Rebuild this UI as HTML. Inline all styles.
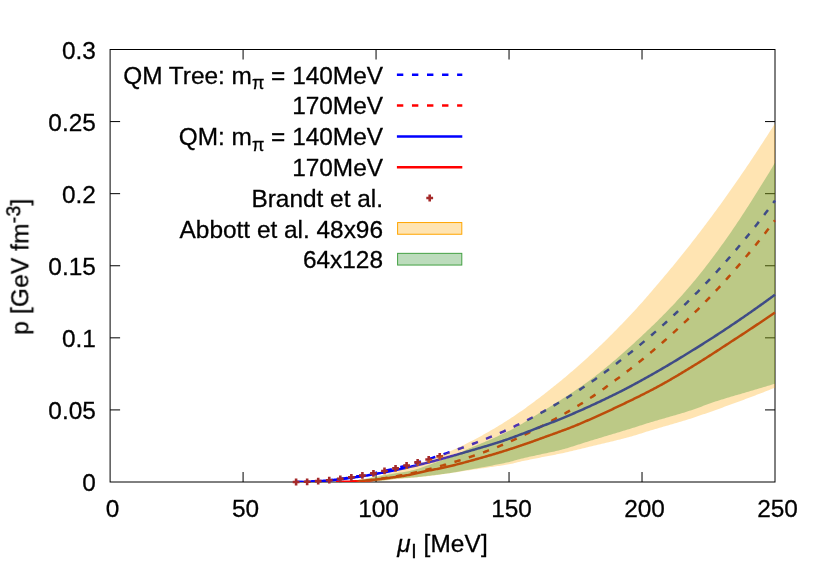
<!DOCTYPE html>
<html><head><meta charset="utf-8"><title>plot</title>
<style>
html,body{margin:0;padding:0;background:#fff;}
svg{display:block;}
text{font-family:"Liberation Sans",sans-serif;font-size:24.4px;fill:#000;stroke:#000;stroke-width:0.3px;}
</style></head><body>
<svg width="830" height="581" viewBox="0 0 830 581">
<rect width="830" height="581" fill="#fff"/>
<path d="M243.08,482.0v-10M243.08,49.5v10M376.06,482.0v-10M376.06,49.5v10M509.04,482.0v-10M509.04,49.5v10M642.02,482.0v-10M642.02,49.5v10M110.1,409.92h10M775.0,409.92h-10M110.1,337.83h10M775.0,337.83h-10M110.1,265.75h10M775.0,265.75h-10M110.1,193.67h10M775.0,193.67h-10M110.1,121.58h10M775.0,121.58h-10" stroke="#000" stroke-width="1" fill="none"/>
<rect x="110.1" y="49.5" width="664.90" height="432.5" fill="none" stroke="#000" stroke-width="1"/>
<clipPath id="pc"><rect x="110.1" y="49.5" width="665.40" height="432.5"/></clipPath>
<g fill="none" stroke-width="2.5" clip-path="url(#pc)">
<path d="M296.27,482.00 L297.47,482.00 L298.67,481.99 L299.87,481.98 L301.07,481.96 L302.27,481.93 L303.47,481.90 L304.67,481.87 L305.87,481.83 L307.07,481.79 L308.27,481.74 L309.47,481.69 L310.67,481.63 L311.87,481.57 L313.07,481.50 L314.27,481.43 L315.47,481.36 L316.67,481.28 L317.87,481.19 L319.07,481.10 L320.27,481.01 L321.47,480.92 L322.67,480.82 L323.87,480.71 L325.07,480.60 L326.27,480.49 L327.47,480.38 L328.67,480.26 L329.87,480.13 L331.07,480.00 L332.27,479.87 L333.47,479.74 L334.67,479.60 L335.87,479.46 L337.07,479.31 L338.27,479.16 L339.47,479.01 L340.67,478.86 L341.87,478.70 L343.06,478.53 L344.26,478.37 L345.46,478.20 L346.66,478.02 L347.86,477.85 L349.06,477.67 L350.26,477.49 L351.46,477.30 L352.66,477.11 L353.86,476.92 L355.06,476.72 L356.26,476.52 L357.46,476.32 L358.66,476.12 L359.86,475.91 L361.06,475.70 L362.26,475.48 L363.46,475.26 L364.66,475.04 L365.86,474.82 L367.06,474.59 L368.26,474.36 L369.46,474.13 L370.66,473.90 L371.86,473.66 L373.06,473.42 L374.26,473.17 L375.46,472.92 L376.66,472.67 L377.86,472.42 L379.06,472.16 L380.26,471.90 L381.46,471.64 L382.66,471.38 L383.86,471.11 L385.06,470.84 L386.26,470.56 L387.46,470.29 L388.66,470.01 L389.86,469.73 L391.06,469.44 L392.26,469.15 L393.46,468.86 L394.66,468.57 L395.86,468.27 L397.06,467.97 L398.26,467.67 L399.46,467.37 L400.66,467.06 L401.86,466.75 L403.06,466.44 L404.26,466.12 L405.46,465.80 L406.66,465.48 L407.86,465.16 L409.06,464.83 L410.25,464.50 L411.45,464.17 L412.65,463.83 L413.85,463.49 L415.05,463.15 L416.25,462.81 L417.45,462.46 L418.65,462.11 L419.85,461.76 L421.05,461.40 L422.25,461.04 L423.45,460.68 L424.65,460.32 L425.85,459.95 L427.05,459.59 L428.25,459.21 L429.45,458.84 L430.65,458.46 L431.85,458.08 L433.05,457.70 L434.25,457.31 L435.45,456.92 L436.65,456.53 L437.85,456.14 L439.05,455.74 L440.25,455.34 L441.45,454.94 L442.65,454.54 L443.85,454.13 L445.05,453.73 L446.25,453.32 L447.45,452.91 L448.65,452.51 L449.85,452.10 L451.05,451.69 L452.25,451.27 L453.45,450.86 L454.65,450.44 L455.85,450.03 L457.05,449.61 L458.25,449.19 L459.45,448.76 L460.65,448.34 L461.85,447.91 L463.05,447.48 L464.25,447.05 L465.45,446.62 L466.65,446.18 L467.85,445.75 L469.05,445.31 L470.25,444.87 L471.45,444.42 L472.65,443.97 L473.85,443.53 L475.05,443.07 L476.24,442.62 L477.44,442.16 L478.64,441.70 L479.84,441.24 L481.04,440.77 L482.24,440.30 L483.44,439.83 L484.64,439.36 L485.84,438.88 L487.04,438.40 L488.24,437.91 L489.44,437.42 L490.64,436.93 L491.84,436.43 L493.04,435.94 L494.24,435.43 L495.44,434.93 L496.64,434.42 L497.84,433.90 L499.04,433.39 L500.24,432.86 L501.44,432.34 L502.64,431.81 L503.84,431.28 L505.04,430.74 L506.24,430.20 L507.44,429.65 L508.64,429.10 L509.84,428.54 L511.04,427.99 L512.24,427.43 L513.44,426.86 L514.64,426.30 L515.84,425.73 L517.04,425.16 L518.24,424.58 L519.44,424.00 L520.64,423.42 L521.84,422.84 L523.04,422.25 L524.24,421.65 L525.44,421.06 L526.64,420.46 L527.84,419.85 L529.04,419.24 L530.24,418.62 L531.44,418.01 L532.64,417.38 L533.84,416.75 L535.04,416.12 L536.24,415.48 L537.44,414.84 L538.64,414.19 L539.84,413.53 L541.04,412.87 L542.24,412.21 L543.43,411.54 L544.63,410.87 L545.83,410.20 L547.03,409.52 L548.23,408.84 L549.43,408.16 L550.63,407.47 L551.83,406.78 L553.03,406.08 L554.23,405.38 L555.43,404.68 L556.63,403.98 L557.83,403.27 L559.03,402.55 L560.23,401.84 L561.43,401.12 L562.63,400.39 L563.83,399.67 L565.03,398.93 L566.23,398.20 L567.43,397.46 L568.63,396.72 L569.83,395.97 L571.03,395.22 L572.23,394.47 L573.43,393.71 L574.63,392.95 L575.83,392.19 L577.03,391.42 L578.23,390.65 L579.43,389.87 L580.63,389.09 L581.83,388.31 L583.03,387.52 L584.23,386.73 L585.43,385.93 L586.63,385.14 L587.83,384.33 L589.03,383.53 L590.23,382.71 L591.43,381.90 L592.63,381.07 L593.83,380.24 L595.03,379.40 L596.23,378.55 L597.43,377.70 L598.63,376.84 L599.83,375.97 L601.03,375.10 L602.23,374.22 L603.43,373.34 L604.63,372.46 L605.83,371.56 L607.03,370.67 L608.23,369.77 L609.42,368.87 L610.62,367.96 L611.82,367.05 L613.02,366.14 L614.22,365.23 L615.42,364.31 L616.62,363.39 L617.82,362.47 L619.02,361.55 L620.22,360.63 L621.42,359.71 L622.62,358.78 L623.82,357.85 L625.02,356.91 L626.22,355.97 L627.42,355.03 L628.62,354.08 L629.82,353.13 L631.02,352.17 L632.22,351.21 L633.42,350.24 L634.62,349.27 L635.82,348.30 L637.02,347.32 L638.22,346.34 L639.42,345.35 L640.62,344.36 L641.82,343.37 L643.02,342.37 L644.22,341.36 L645.42,340.35 L646.62,339.34 L647.82,338.32 L649.02,337.30 L650.22,336.28 L651.42,335.24 L652.62,334.21 L653.82,333.17 L655.02,332.12 L656.22,331.08 L657.42,330.02 L658.62,328.96 L659.82,327.90 L661.02,326.83 L662.22,325.76 L663.42,324.68 L664.62,323.60 L665.82,322.51 L667.02,321.42 L668.22,320.33 L669.42,319.23 L670.62,318.12 L671.82,317.01 L673.02,315.89 L674.22,314.77 L675.41,313.65 L676.61,312.52 L677.81,311.38 L679.01,310.24 L680.21,309.10 L681.41,307.95 L682.61,306.79 L683.81,305.63 L685.01,304.46 L686.21,303.29 L687.41,302.12 L688.61,300.94 L689.81,299.75 L691.01,298.56 L692.21,297.36 L693.41,296.16 L694.61,294.95 L695.81,293.74 L697.01,292.52 L698.21,291.30 L699.41,290.07 L700.61,288.84 L701.81,287.60 L703.01,286.36 L704.21,285.11 L705.41,283.85 L706.61,282.59 L707.81,281.32 L709.01,280.05 L710.21,278.77 L711.41,277.49 L712.61,276.20 L713.81,274.91 L715.01,273.61 L716.21,272.30 L717.41,270.99 L718.61,269.68 L719.81,268.35 L721.01,267.02 L722.21,265.69 L723.41,264.35 L724.61,263.00 L725.81,261.64 L727.01,260.28 L728.21,258.92 L729.41,257.54 L730.61,256.16 L731.81,254.77 L733.01,253.38 L734.21,251.98 L735.41,250.57 L736.61,249.16 L737.81,247.74 L739.01,246.31 L740.21,244.88 L741.41,243.44 L742.60,242.00 L743.80,240.55 L745.00,239.09 L746.20,237.62 L747.40,236.15 L748.60,234.67 L749.80,233.19 L751.00,231.70 L752.20,230.20 L753.40,228.70 L754.60,227.19 L755.80,225.68 L757.00,224.16 L758.20,222.63 L759.40,221.09 L760.60,219.55 L761.80,218.01 L763.00,216.45 L764.20,214.89 L765.40,213.33 L766.60,211.75 L767.80,210.18 L769.00,208.59 L770.20,207.00 L771.40,205.40 L772.60,203.80 L773.80,202.19 L775.00,200.57" stroke="#0000ff" stroke-dasharray="6.4 8.65"/>
<path d="M336.17,482.00 L337.27,482.00 L338.37,481.99 L339.47,481.98 L340.57,481.97 L341.67,481.95 L342.77,481.92 L343.86,481.89 L344.96,481.86 L346.06,481.82 L347.16,481.78 L348.26,481.74 L349.36,481.69 L350.46,481.63 L351.56,481.58 L352.66,481.51 L353.76,481.45 L354.86,481.38 L355.96,481.31 L357.06,481.23 L358.16,481.15 L359.26,481.06 L360.36,480.98 L361.46,480.88 L362.56,480.79 L363.66,480.69 L364.76,480.59 L365.86,480.48 L366.96,480.37 L368.06,480.26 L369.16,480.14 L370.26,480.02 L371.36,479.90 L372.46,479.77 L373.56,479.64 L374.66,479.50 L375.76,479.37 L376.86,479.23 L377.96,479.08 L379.06,478.94 L380.16,478.79 L381.26,478.63 L382.36,478.48 L383.46,478.32 L384.56,478.15 L385.66,477.99 L386.76,477.82 L387.86,477.65 L388.96,477.47 L390.06,477.29 L391.16,477.11 L392.26,476.93 L393.36,476.74 L394.46,476.55 L395.56,476.35 L396.66,476.16 L397.76,475.96 L398.86,475.76 L399.96,475.55 L401.06,475.34 L402.16,475.13 L403.26,474.92 L404.36,474.70 L405.46,474.48 L406.56,474.26 L407.66,474.03 L408.76,473.80 L409.85,473.57 L410.95,473.34 L412.05,473.10 L413.15,472.86 L414.25,472.62 L415.35,472.37 L416.45,472.12 L417.55,471.87 L418.65,471.62 L419.75,471.36 L420.85,471.10 L421.95,470.84 L423.05,470.58 L424.15,470.31 L425.25,470.04 L426.35,469.76 L427.45,469.49 L428.55,469.21 L429.65,468.93 L430.75,468.64 L431.85,468.36 L432.95,468.07 L434.05,467.77 L435.15,467.48 L436.25,467.18 L437.35,466.88 L438.45,466.58 L439.55,466.27 L440.65,465.96 L441.75,465.65 L442.85,465.34 L443.95,465.03 L445.05,464.71 L446.15,464.40 L447.25,464.08 L448.35,463.76 L449.45,463.44 L450.55,463.11 L451.65,462.79 L452.75,462.46 L453.85,462.13 L454.95,461.80 L456.05,461.46 L457.15,461.13 L458.25,460.79 L459.35,460.45 L460.45,460.10 L461.55,459.76 L462.65,459.41 L463.75,459.06 L464.85,458.71 L465.95,458.35 L467.05,458.00 L468.15,457.64 L469.25,457.27 L470.35,456.91 L471.45,456.54 L472.55,456.17 L473.65,455.80 L474.75,455.42 L475.84,455.04 L476.94,454.66 L478.04,454.28 L479.14,453.89 L480.24,453.50 L481.34,453.11 L482.44,452.71 L483.54,452.31 L484.64,451.91 L485.74,451.50 L486.84,451.09 L487.94,450.68 L489.04,450.26 L490.14,449.84 L491.24,449.42 L492.34,448.99 L493.44,448.56 L494.54,448.13 L495.64,447.69 L496.74,447.25 L497.84,446.81 L498.94,446.36 L500.04,445.91 L501.14,445.45 L502.24,444.99 L503.34,444.53 L504.44,444.06 L505.54,443.59 L506.64,443.11 L507.74,442.64 L508.84,442.15 L509.94,441.66 L511.04,441.17 L512.14,440.67 L513.24,440.17 L514.34,439.67 L515.44,439.16 L516.54,438.65 L517.64,438.13 L518.74,437.61 L519.84,437.09 L520.94,436.56 L522.04,436.03 L523.14,435.50 L524.24,434.96 L525.34,434.43 L526.44,433.88 L527.54,433.34 L528.64,432.79 L529.74,432.24 L530.84,431.69 L531.94,431.14 L533.04,430.58 L534.14,430.02 L535.24,429.46 L536.34,428.90 L537.44,428.33 L538.54,427.77 L539.64,427.20 L540.74,426.63 L541.84,426.06 L542.93,425.48 L544.03,424.91 L545.13,424.33 L546.23,423.75 L547.33,423.16 L548.43,422.58 L549.53,421.99 L550.63,421.40 L551.73,420.80 L552.83,420.21 L553.93,419.61 L555.03,419.01 L556.13,418.40 L557.23,417.80 L558.33,417.18 L559.43,416.57 L560.53,415.96 L561.63,415.34 L562.73,414.72 L563.83,414.09 L564.93,413.46 L566.03,412.83 L567.13,412.20 L568.23,411.56 L569.33,410.92 L570.43,410.27 L571.53,409.62 L572.63,408.97 L573.73,408.32 L574.83,407.66 L575.93,407.00 L577.03,406.33 L578.13,405.66 L579.23,404.99 L580.33,404.31 L581.43,403.63 L582.53,402.94 L583.63,402.26 L584.73,401.56 L585.83,400.87 L586.93,400.16 L588.03,399.46 L589.13,398.75 L590.23,398.04 L591.33,397.32 L592.43,396.59 L593.53,395.85 L594.63,395.11 L595.73,394.37 L596.83,393.61 L597.93,392.85 L599.03,392.09 L600.13,391.31 L601.23,390.54 L602.33,389.76 L603.43,388.97 L604.53,388.18 L605.63,387.39 L606.73,386.59 L607.83,385.79 L608.92,384.99 L610.02,384.18 L611.12,383.37 L612.22,382.56 L613.32,381.75 L614.42,380.94 L615.52,380.12 L616.62,379.31 L617.72,378.49 L618.82,377.67 L619.92,376.86 L621.02,376.04 L622.12,375.22 L623.22,374.39 L624.32,373.56 L625.42,372.73 L626.52,371.89 L627.62,371.05 L628.72,370.21 L629.82,369.37 L630.92,368.52 L632.02,367.66 L633.12,366.80 L634.22,365.94 L635.32,365.08 L636.42,364.21 L637.52,363.34 L638.62,362.46 L639.72,361.58 L640.82,360.70 L641.92,359.81 L643.02,358.92 L644.12,358.03 L645.22,357.13 L646.32,356.23 L647.42,355.32 L648.52,354.41 L649.62,353.50 L650.72,352.58 L651.82,351.66 L652.92,350.74 L654.02,349.81 L655.12,348.87 L656.22,347.94 L657.32,347.00 L658.42,346.05 L659.52,345.10 L660.62,344.15 L661.72,343.19 L662.82,342.23 L663.92,341.27 L665.02,340.30 L666.12,339.33 L667.22,338.35 L668.32,337.37 L669.42,336.38 L670.52,335.40 L671.62,334.40 L672.72,333.40 L673.82,332.40 L674.92,331.40 L676.01,330.39 L677.11,329.37 L678.21,328.36 L679.31,327.33 L680.41,326.31 L681.51,325.28 L682.61,324.24 L683.71,323.20 L684.81,322.16 L685.91,321.11 L687.01,320.06 L688.11,319.00 L689.21,317.94 L690.31,316.87 L691.41,315.80 L692.51,314.73 L693.61,313.65 L694.71,312.57 L695.81,311.48 L696.91,310.39 L698.01,309.29 L699.11,308.19 L700.21,307.08 L701.31,305.97 L702.41,304.86 L703.51,303.74 L704.61,302.61 L705.71,301.48 L706.81,300.35 L707.91,299.21 L709.01,298.07 L710.11,296.92 L711.21,295.77 L712.31,294.61 L713.41,293.45 L714.51,292.29 L715.61,291.12 L716.71,289.94 L717.81,288.76 L718.91,287.57 L720.01,286.39 L721.11,285.19 L722.21,283.99 L723.31,282.79 L724.41,281.58 L725.51,280.36 L726.61,279.14 L727.71,277.92 L728.81,276.69 L729.91,275.46 L731.01,274.22 L732.11,272.97 L733.21,271.72 L734.31,270.47 L735.41,269.21 L736.51,267.94 L737.61,266.67 L738.71,265.39 L739.81,264.11 L740.91,262.82 L742.00,261.53 L743.10,260.23 L744.20,258.93 L745.30,257.62 L746.40,256.31 L747.50,254.99 L748.60,253.66 L749.70,252.33 L750.80,251.00 L751.90,249.66 L753.00,248.31 L754.10,246.96 L755.20,245.60 L756.30,244.24 L757.40,242.87 L758.50,241.50 L759.60,240.12 L760.70,238.74 L761.80,237.35 L762.90,235.95 L764.00,234.55 L765.10,233.15 L766.20,231.74 L767.30,230.32 L768.40,228.90 L769.50,227.48 L770.60,226.05 L771.70,224.61 L772.80,223.17 L773.90,221.72 L775.00,220.27" stroke="#ff0000" stroke-dasharray="6.4 8.65"/>
<path d="M296.27,482.00 L297.47,482.00 L298.67,481.99 L299.87,481.98 L301.07,481.96 L302.27,481.94 L303.47,481.91 L304.67,481.88 L305.87,481.85 L307.07,481.81 L308.27,481.76 L309.47,481.72 L310.67,481.66 L311.87,481.61 L313.07,481.55 L314.27,481.48 L315.47,481.42 L316.67,481.34 L317.87,481.27 L319.07,481.19 L320.27,481.11 L321.47,481.02 L322.67,480.93 L323.87,480.83 L325.07,480.74 L326.27,480.64 L327.47,480.53 L328.67,480.43 L329.87,480.32 L331.07,480.20 L332.27,480.08 L333.47,479.96 L334.67,479.84 L335.87,479.71 L337.07,479.58 L338.27,479.45 L339.47,479.32 L340.67,479.18 L341.87,479.04 L343.06,478.89 L344.26,478.75 L345.46,478.60 L346.66,478.44 L347.86,478.29 L349.06,478.13 L350.26,477.97 L351.46,477.80 L352.66,477.64 L353.86,477.47 L355.06,477.30 L356.26,477.12 L357.46,476.94 L358.66,476.77 L359.86,476.58 L361.06,476.40 L362.26,476.21 L363.46,476.02 L364.66,475.83 L365.86,475.64 L367.06,475.44 L368.26,475.24 L369.46,475.04 L370.66,474.83 L371.86,474.63 L373.06,474.42 L374.26,474.21 L375.46,473.99 L376.66,473.78 L377.86,473.56 L379.06,473.34 L380.26,473.12 L381.46,472.89 L382.66,472.67 L383.86,472.44 L385.06,472.21 L386.26,471.97 L387.46,471.74 L388.66,471.50 L389.86,471.26 L391.06,471.02 L392.26,470.77 L393.46,470.53 L394.66,470.28 L395.86,470.03 L397.06,469.77 L398.26,469.52 L399.46,469.26 L400.66,469.00 L401.86,468.74 L403.06,468.48 L404.26,468.22 L405.46,467.95 L406.66,467.68 L407.86,467.41 L409.06,467.13 L410.25,466.86 L411.45,466.58 L412.65,466.30 L413.85,466.02 L415.05,465.74 L416.25,465.45 L417.45,465.17 L418.65,464.88 L419.85,464.59 L421.05,464.29 L422.25,464.00 L423.45,463.70 L424.65,463.40 L425.85,463.10 L427.05,462.79 L428.25,462.48 L429.45,462.17 L430.65,461.86 L431.85,461.55 L433.05,461.23 L434.25,460.92 L435.45,460.60 L436.65,460.27 L437.85,459.95 L439.05,459.63 L440.25,459.30 L441.45,458.97 L442.65,458.64 L443.85,458.31 L445.05,457.98 L446.25,457.64 L447.45,457.31 L448.65,456.97 L449.85,456.63 L451.05,456.30 L452.25,455.96 L453.45,455.61 L454.65,455.27 L455.85,454.93 L457.05,454.59 L458.25,454.24 L459.45,453.89 L460.65,453.55 L461.85,453.20 L463.05,452.85 L464.25,452.51 L465.45,452.16 L466.65,451.81 L467.85,451.46 L469.05,451.11 L470.25,450.76 L471.45,450.41 L472.65,450.06 L473.85,449.71 L475.05,449.36 L476.24,449.02 L477.44,448.67 L478.64,448.32 L479.84,447.97 L481.04,447.62 L482.24,447.27 L483.44,446.91 L484.64,446.56 L485.84,446.20 L487.04,445.85 L488.24,445.49 L489.44,445.12 L490.64,444.76 L491.84,444.39 L493.04,444.03 L494.24,443.65 L495.44,443.28 L496.64,442.90 L497.84,442.52 L499.04,442.13 L500.24,441.74 L501.44,441.35 L502.64,440.95 L503.84,440.55 L505.04,440.14 L506.24,439.73 L507.44,439.31 L508.64,438.89 L509.84,438.46 L511.04,438.03 L512.24,437.60 L513.44,437.16 L514.64,436.72 L515.84,436.28 L517.04,435.84 L518.24,435.39 L519.44,434.94 L520.64,434.49 L521.84,434.04 L523.04,433.58 L524.24,433.13 L525.44,432.67 L526.64,432.21 L527.84,431.75 L529.04,431.29 L530.24,430.82 L531.44,430.35 L532.64,429.89 L533.84,429.42 L535.04,428.95 L536.24,428.48 L537.44,428.00 L538.64,427.53 L539.84,427.05 L541.04,426.58 L542.24,426.11 L543.43,425.65 L544.63,425.19 L545.83,424.73 L547.03,424.27 L548.23,423.82 L549.43,423.36 L550.63,422.91 L551.83,422.45 L553.03,421.99 L554.23,421.52 L555.43,421.05 L556.63,420.58 L557.83,420.10 L559.03,419.61 L560.23,419.12 L561.43,418.62 L562.63,418.12 L563.83,417.61 L565.03,417.11 L566.23,416.60 L567.43,416.09 L568.63,415.58 L569.83,415.06 L571.03,414.55 L572.23,414.03 L573.43,413.51 L574.63,412.99 L575.83,412.47 L577.03,411.94 L578.23,411.41 L579.43,410.88 L580.63,410.35 L581.83,409.82 L583.03,409.28 L584.23,408.74 L585.43,408.20 L586.63,407.66 L587.83,407.12 L589.03,406.57 L590.23,406.03 L591.43,405.48 L592.63,404.92 L593.83,404.37 L595.03,403.81 L596.23,403.25 L597.43,402.69 L598.63,402.13 L599.83,401.57 L601.03,401.00 L602.23,400.43 L603.43,399.86 L604.63,399.29 L605.83,398.71 L607.03,398.14 L608.23,397.56 L609.42,396.98 L610.62,396.39 L611.82,395.81 L613.02,395.22 L614.22,394.63 L615.42,394.04 L616.62,393.44 L617.82,392.85 L619.02,392.25 L620.22,391.65 L621.42,391.05 L622.62,390.44 L623.82,389.82 L625.02,389.20 L626.22,388.58 L627.42,387.96 L628.62,387.33 L629.82,386.69 L631.02,386.05 L632.22,385.41 L633.42,384.77 L634.62,384.12 L635.82,383.47 L637.02,382.82 L638.22,382.16 L639.42,381.50 L640.62,380.84 L641.82,380.18 L643.02,379.51 L644.22,378.85 L645.42,378.18 L646.62,377.51 L647.82,376.84 L649.02,376.17 L650.22,375.50 L651.42,374.82 L652.62,374.15 L653.82,373.47 L655.02,372.78 L656.22,372.10 L657.42,371.41 L658.62,370.72 L659.82,370.03 L661.02,369.33 L662.22,368.64 L663.42,367.94 L664.62,367.23 L665.82,366.53 L667.02,365.82 L668.22,365.12 L669.42,364.40 L670.62,363.69 L671.82,362.98 L673.02,362.26 L674.22,361.54 L675.41,360.82 L676.61,360.10 L677.81,359.37 L679.01,358.65 L680.21,357.92 L681.41,357.19 L682.61,356.46 L683.81,355.73 L685.01,354.99 L686.21,354.26 L687.41,353.52 L688.61,352.78 L689.81,352.04 L691.01,351.30 L692.21,350.56 L693.41,349.81 L694.61,349.07 L695.81,348.32 L697.01,347.57 L698.21,346.83 L699.41,346.08 L700.61,345.33 L701.81,344.57 L703.01,343.82 L704.21,343.06 L705.41,342.30 L706.61,341.54 L707.81,340.78 L709.01,340.02 L710.21,339.25 L711.41,338.48 L712.61,337.71 L713.81,336.93 L715.01,336.16 L716.21,335.38 L717.41,334.60 L718.61,333.82 L719.81,333.03 L721.01,332.25 L722.21,331.46 L723.41,330.67 L724.61,329.88 L725.81,329.08 L727.01,328.29 L728.21,327.49 L729.41,326.69 L730.61,325.88 L731.81,325.08 L733.01,324.27 L734.21,323.46 L735.41,322.65 L736.61,321.84 L737.81,321.02 L739.01,320.21 L740.21,319.39 L741.41,318.56 L742.60,317.74 L743.80,316.92 L745.00,316.09 L746.20,315.26 L747.40,314.43 L748.60,313.59 L749.80,312.76 L751.00,311.92 L752.20,311.08 L753.40,310.24 L754.60,309.39 L755.80,308.54 L757.00,307.70 L758.20,306.85 L759.40,305.99 L760.60,305.14 L761.80,304.28 L763.00,303.42 L764.20,302.56 L765.40,301.70 L766.60,300.84 L767.80,299.97 L769.00,299.10 L770.20,298.23 L771.40,297.36 L772.60,296.48 L773.80,295.61 L775.00,294.73" stroke="#0000ff"/>
<path d="M336.17,481.98 L337.27,481.98 L338.37,481.97 L339.47,481.96 L340.57,481.94 L341.67,481.92 L342.77,481.90 L343.86,481.87 L344.96,481.84 L346.06,481.80 L347.16,481.76 L348.26,481.72 L349.36,481.67 L350.46,481.62 L351.56,481.57 L352.66,481.51 L353.76,481.45 L354.86,481.39 L355.96,481.32 L357.06,481.25 L358.16,481.18 L359.26,481.10 L360.36,481.02 L361.46,480.94 L362.56,480.85 L363.66,480.76 L364.76,480.67 L365.86,480.57 L366.96,480.47 L368.06,480.37 L369.16,480.27 L370.26,480.16 L371.36,480.05 L372.46,479.93 L373.56,479.81 L374.66,479.69 L375.76,479.56 L376.86,479.43 L377.96,479.30 L379.06,479.16 L380.16,479.03 L381.26,478.89 L382.36,478.75 L383.46,478.61 L384.56,478.46 L385.66,478.32 L386.76,478.18 L387.86,478.03 L388.96,477.89 L390.06,477.75 L391.16,477.60 L392.26,477.46 L393.36,477.31 L394.46,477.17 L395.56,477.02 L396.66,476.88 L397.76,476.73 L398.86,476.57 L399.96,476.42 L401.06,476.26 L402.16,476.09 L403.26,475.91 L404.36,475.73 L405.46,475.53 L406.56,475.33 L407.66,475.13 L408.76,474.91 L409.85,474.69 L410.95,474.47 L412.05,474.23 L413.15,474.00 L414.25,473.76 L415.35,473.51 L416.45,473.26 L417.55,473.01 L418.65,472.75 L419.75,472.49 L420.85,472.23 L421.95,471.98 L423.05,471.73 L424.15,471.49 L425.25,471.26 L426.35,471.03 L427.45,470.80 L428.55,470.58 L429.65,470.37 L430.75,470.17 L431.85,469.96 L432.95,469.75 L434.05,469.55 L435.15,469.34 L436.25,469.13 L437.35,468.91 L438.45,468.70 L439.55,468.48 L440.65,468.26 L441.75,468.03 L442.85,467.80 L443.95,467.56 L445.05,467.32 L446.15,467.08 L447.25,466.83 L448.35,466.57 L449.45,466.30 L450.55,466.03 L451.65,465.76 L452.75,465.48 L453.85,465.20 L454.95,464.93 L456.05,464.64 L457.15,464.36 L458.25,464.08 L459.35,463.79 L460.45,463.51 L461.55,463.22 L462.65,462.93 L463.75,462.63 L464.85,462.34 L465.95,462.04 L467.05,461.75 L468.15,461.45 L469.25,461.15 L470.35,460.84 L471.45,460.54 L472.55,460.24 L473.65,459.93 L474.75,459.63 L475.84,459.32 L476.94,459.01 L478.04,458.71 L479.14,458.40 L480.24,458.09 L481.34,457.78 L482.44,457.47 L483.54,457.15 L484.64,456.84 L485.74,456.52 L486.84,456.21 L487.94,455.89 L489.04,455.57 L490.14,455.25 L491.24,454.93 L492.34,454.60 L493.44,454.28 L494.54,453.95 L495.64,453.62 L496.74,453.29 L497.84,452.96 L498.94,452.63 L500.04,452.29 L501.14,451.95 L502.24,451.61 L503.34,451.27 L504.44,450.92 L505.54,450.57 L506.64,450.22 L507.74,449.87 L508.84,449.52 L509.94,449.16 L511.04,448.80 L512.14,448.44 L513.24,448.08 L514.34,447.72 L515.44,447.36 L516.54,446.99 L517.64,446.62 L518.74,446.26 L519.84,445.89 L520.94,445.52 L522.04,445.15 L523.14,444.77 L524.24,444.40 L525.34,444.02 L526.44,443.64 L527.54,443.26 L528.64,442.88 L529.74,442.49 L530.84,442.11 L531.94,441.72 L533.04,441.33 L534.14,440.94 L535.24,440.54 L536.34,440.15 L537.44,439.75 L538.54,439.35 L539.64,438.95 L540.74,438.54 L541.84,438.14 L542.93,437.74 L544.03,437.34 L545.13,436.94 L546.23,436.54 L547.33,436.14 L548.43,435.74 L549.53,435.35 L550.63,434.95 L551.73,434.55 L552.83,434.16 L553.93,433.76 L555.03,433.36 L556.13,432.96 L557.23,432.56 L558.33,432.16 L559.43,431.76 L560.53,431.36 L561.63,430.95 L562.73,430.54 L563.83,430.13 L564.93,429.72 L566.03,429.31 L567.13,428.89 L568.23,428.47 L569.33,428.04 L570.43,427.62 L571.53,427.19 L572.63,426.75 L573.73,426.31 L574.83,425.87 L575.93,425.42 L577.03,424.97 L578.13,424.51 L579.23,424.05 L580.33,423.59 L581.43,423.12 L582.53,422.65 L583.63,422.17 L584.73,421.70 L585.83,421.22 L586.93,420.74 L588.03,420.26 L589.13,419.78 L590.23,419.29 L591.33,418.81 L592.43,418.32 L593.53,417.83 L594.63,417.34 L595.73,416.85 L596.83,416.35 L597.93,415.85 L599.03,415.36 L600.13,414.86 L601.23,414.36 L602.33,413.85 L603.43,413.35 L604.53,412.84 L605.63,412.34 L606.73,411.83 L607.83,411.32 L608.92,410.81 L610.02,410.30 L611.12,409.78 L612.22,409.27 L613.32,408.75 L614.42,408.23 L615.52,407.71 L616.62,407.19 L617.72,406.67 L618.82,406.15 L619.92,405.63 L621.02,405.10 L622.12,404.58 L623.22,404.05 L624.32,403.52 L625.42,403.00 L626.52,402.47 L627.62,401.94 L628.72,401.41 L629.82,400.87 L630.92,400.34 L632.02,399.80 L633.12,399.27 L634.22,398.73 L635.32,398.19 L636.42,397.65 L637.52,397.10 L638.62,396.56 L639.72,396.01 L640.82,395.46 L641.92,394.91 L643.02,394.36 L644.12,393.81 L645.22,393.25 L646.32,392.69 L647.42,392.13 L648.52,391.57 L649.62,391.01 L650.72,390.44 L651.82,389.87 L652.92,389.30 L654.02,388.72 L655.12,388.14 L656.22,387.55 L657.32,386.96 L658.42,386.36 L659.52,385.76 L660.62,385.16 L661.72,384.55 L662.82,383.94 L663.92,383.33 L665.02,382.71 L666.12,382.09 L667.22,381.46 L668.32,380.84 L669.42,380.21 L670.52,379.57 L671.62,378.93 L672.72,378.29 L673.82,377.65 L674.92,377.01 L676.01,376.36 L677.11,375.71 L678.21,375.06 L679.31,374.40 L680.41,373.74 L681.51,373.09 L682.61,372.42 L683.71,371.76 L684.81,371.10 L685.91,370.43 L687.01,369.76 L688.11,369.09 L689.21,368.42 L690.31,367.75 L691.41,367.08 L692.51,366.40 L693.61,365.73 L694.71,365.05 L695.81,364.37 L696.91,363.70 L698.01,363.02 L699.11,362.34 L700.21,361.66 L701.31,360.98 L702.41,360.29 L703.51,359.60 L704.61,358.91 L705.71,358.21 L706.81,357.51 L707.91,356.81 L709.01,356.11 L710.11,355.40 L711.21,354.69 L712.31,353.98 L713.41,353.27 L714.51,352.56 L715.61,351.84 L716.71,351.13 L717.81,350.41 L718.91,349.69 L720.01,348.97 L721.11,348.25 L722.21,347.53 L723.31,346.81 L724.41,346.09 L725.51,345.37 L726.61,344.65 L727.71,343.93 L728.81,343.21 L729.91,342.49 L731.01,341.78 L732.11,341.06 L733.21,340.35 L734.31,339.63 L735.41,338.92 L736.51,338.21 L737.61,337.50 L738.71,336.78 L739.81,336.06 L740.91,335.35 L742.00,334.63 L743.10,333.91 L744.20,333.18 L745.30,332.46 L746.40,331.73 L747.50,331.01 L748.60,330.28 L749.70,329.55 L750.80,328.82 L751.90,328.09 L753.00,327.36 L754.10,326.62 L755.20,325.89 L756.30,325.15 L757.40,324.41 L758.50,323.67 L759.60,322.93 L760.70,322.19 L761.80,321.45 L762.90,320.70 L764.00,319.96 L765.10,319.21 L766.20,318.47 L767.30,317.72 L768.40,316.97 L769.50,316.22 L770.60,315.47 L771.70,314.71 L772.80,313.96 L773.90,313.21 L775.00,312.45" stroke="#ff0000"/>
</g>
<path d="M292.70,482.00h6.8M296.10,478.60v6.8M303.75,481.79h6.8M307.15,478.39v6.8M314.80,481.17h6.8M318.20,477.77v6.8M325.85,480.20h6.8M329.25,476.80v6.8M336.90,478.90h6.8M340.30,475.50v6.8M347.95,477.32h6.8M351.35,473.92v6.8M359.00,475.46h6.8M362.40,472.06v6.8M370.05,473.34h6.8M373.45,469.94v6.8M381.10,470.96h6.8M384.50,467.56v6.8M392.15,468.35h6.8M395.55,464.95v6.8M403.20,465.49h6.8M406.60,462.09v6.8M414.25,462.40h6.8M417.65,459.00v6.8M425.30,459.50h6.8M428.70,456.10v6.8M436.35,456.40h6.8M439.75,453.00v6.8M426.30,198.00h6.8M429.70,194.60v6.8" stroke="#a52a2a" stroke-width="2.6" fill="none"/>
<path d="M354.00,480.94 L355.41,480.69 L356.82,480.43 L358.22,480.16 L359.63,479.89 L361.04,479.62 L362.45,479.34 L363.86,479.05 L365.26,478.76 L366.67,478.47 L368.08,478.17 L369.49,477.87 L370.90,477.56 L372.30,477.24 L373.71,476.92 L375.12,476.60 L376.53,476.27 L377.94,475.93 L379.34,475.59 L380.75,475.25 L382.16,474.90 L383.57,474.54 L384.98,474.18 L386.38,473.81 L387.79,473.44 L389.20,473.06 L390.61,472.68 L392.02,472.29 L393.42,471.90 L394.83,471.50 L396.24,471.09 L397.65,470.68 L399.06,470.27 L400.46,469.85 L401.87,469.42 L403.28,468.99 L404.69,468.55 L406.10,468.11 L407.51,467.66 L408.91,467.20 L410.32,466.74 L411.73,466.27 L413.14,465.80 L414.55,465.32 L415.95,464.84 L417.36,464.35 L418.77,463.85 L420.18,463.35 L421.59,462.85 L422.99,462.33 L424.40,461.81 L425.81,461.29 L427.22,460.76 L428.63,460.22 L430.03,459.68 L431.44,459.14 L432.85,458.58 L434.26,458.02 L435.67,457.46 L437.07,456.89 L438.48,456.31 L439.89,455.73 L441.30,455.14 L442.71,454.55 L444.11,453.95 L445.52,453.34 L446.93,452.73 L448.34,452.11 L449.75,451.49 L451.15,450.86 L452.56,450.22 L453.97,449.58 L455.38,448.93 L456.79,448.27 L458.19,447.61 L459.60,446.94 L461.01,446.27 L462.42,445.59 L463.83,444.90 L465.23,444.21 L466.64,443.51 L468.05,442.80 L469.46,442.09 L470.87,441.37 L472.27,440.64 L473.68,439.91 L475.09,439.17 L476.50,438.43 L477.91,437.68 L479.31,436.92 L480.72,436.15 L482.13,435.38 L483.54,434.61 L484.95,433.82 L486.35,433.03 L487.76,432.23 L489.17,431.43 L490.58,430.61 L491.99,429.80 L493.39,428.97 L494.80,428.14 L496.21,427.30 L497.62,426.45 L499.03,425.60 L500.43,424.74 L501.84,423.88 L503.25,423.00 L504.66,422.12 L506.07,421.23 L507.47,420.34 L508.88,419.44 L510.29,418.53 L511.70,417.61 L513.11,416.68 L514.52,415.74 L515.92,414.78 L517.33,413.82 L518.74,412.85 L520.15,411.87 L521.56,410.89 L522.96,409.89 L524.37,408.89 L525.78,407.88 L527.19,406.86 L528.60,405.83 L530.00,404.80 L531.41,403.76 L532.82,402.72 L534.23,401.67 L535.64,400.61 L537.04,399.55 L538.45,398.48 L539.86,397.41 L541.27,396.34 L542.68,395.25 L544.08,394.16 L545.49,393.07 L546.90,391.96 L548.31,390.85 L549.72,389.74 L551.12,388.61 L552.53,387.49 L553.94,386.36 L555.35,385.22 L556.76,384.08 L558.16,382.94 L559.57,381.79 L560.98,380.64 L562.39,379.47 L563.80,378.31 L565.20,377.13 L566.61,375.95 L568.02,374.76 L569.43,373.56 L570.84,372.36 L572.24,371.15 L573.65,369.93 L575.06,368.71 L576.47,367.47 L577.88,366.24 L579.28,364.99 L580.69,363.74 L582.10,362.48 L583.51,361.22 L584.92,359.95 L586.32,358.67 L587.73,357.38 L589.14,356.09 L590.55,354.79 L591.96,353.48 L593.36,352.17 L594.77,350.85 L596.18,349.52 L597.59,348.18 L599.00,346.84 L600.40,345.49 L601.81,344.13 L603.22,342.77 L604.63,341.40 L606.04,340.02 L607.44,338.64 L608.85,337.25 L610.26,335.85 L611.67,334.44 L613.08,333.03 L614.48,331.61 L615.89,330.18 L617.30,328.74 L618.71,327.30 L620.12,325.85 L621.53,324.40 L622.93,322.93 L624.34,321.46 L625.75,319.98 L627.16,318.50 L628.57,317.01 L629.97,315.51 L631.38,314.00 L632.79,312.49 L634.20,310.96 L635.61,309.44 L637.01,307.90 L638.42,306.36 L639.83,304.80 L641.24,303.24 L642.65,301.66 L644.05,300.06 L645.46,298.45 L646.87,296.83 L648.28,295.19 L649.69,293.55 L651.09,291.90 L652.50,290.25 L653.91,288.60 L655.32,286.94 L656.73,285.30 L658.13,283.65 L659.54,282.01 L660.95,280.35 L662.36,278.70 L663.77,277.03 L665.17,275.36 L666.58,273.68 L667.99,272.00 L669.40,270.31 L670.81,268.61 L672.21,266.91 L673.62,265.20 L675.03,263.48 L676.44,261.76 L677.85,260.03 L679.25,258.29 L680.66,256.55 L682.07,254.80 L683.48,253.05 L684.89,251.28 L686.29,249.51 L687.70,247.73 L689.11,245.95 L690.52,244.16 L691.93,242.36 L693.33,240.56 L694.74,238.74 L696.15,236.93 L697.56,235.10 L698.97,233.27 L700.37,231.43 L701.78,229.58 L703.19,227.72 L704.60,225.86 L706.01,223.99 L707.41,222.12 L708.82,220.23 L710.23,218.34 L711.64,216.44 L713.05,214.54 L714.45,212.62 L715.86,210.70 L717.27,208.78 L718.68,206.84 L720.09,204.90 L721.49,202.95 L722.90,200.99 L724.31,199.02 L725.72,197.05 L727.13,195.07 L728.54,193.08 L729.94,191.08 L731.35,189.08 L732.76,187.07 L734.17,185.05 L735.58,183.03 L736.98,181.00 L738.39,178.96 L739.80,176.91 L741.21,174.86 L742.62,172.80 L744.02,170.73 L745.43,168.66 L746.84,166.57 L748.25,164.49 L749.66,162.39 L751.06,160.29 L752.47,158.18 L753.88,156.06 L755.29,153.94 L756.70,151.80 L758.10,149.67 L759.51,147.52 L760.92,145.37 L762.33,143.21 L763.74,141.04 L765.14,138.87 L766.55,136.69 L767.96,134.51 L769.37,132.31 L770.78,130.11 L772.18,127.91 L773.59,125.69 L775.00,123.48 L775.00,387.70 L773.59,388.26 L772.18,388.82 L770.78,389.37 L769.37,389.93 L767.96,390.48 L766.55,391.04 L765.14,391.59 L763.74,392.14 L762.33,392.69 L760.92,393.23 L759.51,393.77 L758.10,394.32 L756.70,394.85 L755.29,395.39 L753.88,395.93 L752.47,396.46 L751.06,396.99 L749.66,397.52 L748.25,398.05 L746.84,398.58 L745.43,399.11 L744.02,399.63 L742.62,400.16 L741.21,400.68 L739.80,401.20 L738.39,401.73 L736.98,402.25 L735.58,402.76 L734.17,403.28 L732.76,403.80 L731.35,404.31 L729.94,404.83 L728.54,405.34 L727.13,405.85 L725.72,406.36 L724.31,406.87 L722.90,407.38 L721.49,407.88 L720.09,408.39 L718.68,408.89 L717.27,409.39 L715.86,409.89 L714.45,410.39 L713.05,410.89 L711.64,411.39 L710.23,411.89 L708.82,412.39 L707.41,412.89 L706.01,413.38 L704.60,413.88 L703.19,414.37 L701.78,414.86 L700.37,415.34 L698.97,415.82 L697.56,416.30 L696.15,416.78 L694.74,417.25 L693.33,417.72 L691.93,418.18 L690.52,418.63 L689.11,419.08 L687.70,419.53 L686.29,419.97 L684.89,420.40 L683.48,420.84 L682.07,421.26 L680.66,421.69 L679.25,422.11 L677.85,422.53 L676.44,422.94 L675.03,423.35 L673.62,423.76 L672.21,424.17 L670.81,424.58 L669.40,424.99 L667.99,425.39 L666.58,425.80 L665.17,426.20 L663.77,426.61 L662.36,427.02 L660.95,427.42 L659.54,427.83 L658.13,428.24 L656.73,428.65 L655.32,429.06 L653.91,429.48 L652.50,429.90 L651.09,430.32 L649.69,430.75 L648.28,431.18 L646.87,431.61 L645.46,432.06 L644.05,432.50 L642.65,432.95 L641.24,433.40 L639.83,433.84 L638.42,434.29 L637.01,434.73 L635.61,435.16 L634.20,435.59 L632.79,436.00 L631.38,436.41 L629.97,436.81 L628.57,437.19 L627.16,437.58 L625.75,437.95 L624.34,438.33 L622.93,438.69 L621.53,439.06 L620.12,439.42 L618.71,439.77 L617.30,440.12 L615.89,440.47 L614.48,440.82 L613.08,441.16 L611.67,441.51 L610.26,441.85 L608.85,442.18 L607.44,442.52 L606.04,442.85 L604.63,443.19 L603.22,443.52 L601.81,443.85 L600.40,444.18 L599.00,444.52 L597.59,444.85 L596.18,445.18 L594.77,445.51 L593.36,445.85 L591.96,446.18 L590.55,446.52 L589.14,446.86 L587.73,447.20 L586.32,447.54 L584.92,447.88 L583.51,448.22 L582.10,448.56 L580.69,448.91 L579.28,449.25 L577.88,449.59 L576.47,449.93 L575.06,450.27 L573.65,450.60 L572.24,450.94 L570.84,451.27 L569.43,451.60 L568.02,451.92 L566.61,452.25 L565.20,452.56 L563.80,452.88 L562.39,453.19 L560.98,453.49 L559.57,453.79 L558.16,454.08 L556.76,454.37 L555.35,454.65 L553.94,454.93 L552.53,455.20 L551.12,455.47 L549.72,455.73 L548.31,456.00 L546.90,456.27 L545.49,456.53 L544.08,456.80 L542.68,457.07 L541.27,457.35 L539.86,457.63 L538.45,457.91 L537.04,458.19 L535.64,458.47 L534.23,458.75 L532.82,459.03 L531.41,459.31 L530.00,459.59 L528.60,459.88 L527.19,460.16 L525.78,460.46 L524.37,460.75 L522.96,461.05 L521.56,461.36 L520.15,461.67 L518.74,461.99 L517.33,462.34 L515.92,462.70 L514.52,463.06 L513.11,463.41 L511.70,463.74 L510.29,464.04 L508.88,464.31 L507.47,464.57 L506.07,464.81 L504.66,465.04 L503.25,465.27 L501.84,465.48 L500.43,465.69 L499.03,465.90 L497.62,466.10 L496.21,466.30 L494.80,466.50 L493.39,466.70 L491.99,466.91 L490.58,467.11 L489.17,467.32 L487.76,467.53 L486.35,467.74 L484.95,467.94 L483.54,468.14 L482.13,468.35 L480.72,468.55 L479.31,468.75 L477.91,468.95 L476.50,469.15 L475.09,469.35 L473.68,469.56 L472.27,469.76 L470.87,469.97 L469.46,470.18 L468.05,470.40 L466.64,470.61 L465.23,470.83 L463.83,471.06 L462.42,471.28 L461.01,471.50 L459.60,471.73 L458.19,471.95 L456.79,472.17 L455.38,472.39 L453.97,472.61 L452.56,472.82 L451.15,473.03 L449.75,473.24 L448.34,473.44 L446.93,473.64 L445.52,473.84 L444.11,474.04 L442.71,474.24 L441.30,474.44 L439.89,474.63 L438.48,474.82 L437.07,475.01 L435.67,475.19 L434.26,475.38 L432.85,475.55 L431.44,475.73 L430.03,475.90 L428.63,476.06 L427.22,476.22 L425.81,476.38 L424.40,476.53 L422.99,476.69 L421.59,476.83 L420.18,476.98 L418.77,477.12 L417.36,477.27 L415.95,477.41 L414.55,477.54 L413.14,477.68 L411.73,477.80 L410.32,477.93 L408.91,478.05 L407.51,478.17 L406.10,478.28 L404.69,478.40 L403.28,478.52 L401.87,478.64 L400.46,478.76 L399.06,478.89 L397.65,479.03 L396.24,479.17 L394.83,479.32 L393.42,479.49 L392.02,479.68 L390.61,479.88 L389.20,480.09 L387.79,480.28 L386.38,480.46 L384.98,480.60 L383.57,480.73 L382.16,480.84 L380.75,480.95 L379.34,481.05 L377.94,481.14 L376.53,481.22 L375.12,481.29 L373.71,481.36 L372.30,481.43 L370.90,481.49 L369.49,481.56 L368.08,481.62 L366.67,481.68 L365.26,481.73 L363.86,481.78 L362.45,481.83 L361.04,481.87 L359.63,481.91 L358.22,481.67 L356.82,481.30 L355.41,481.06 L354.00,480.94Z" fill="rgb(255,165,0)" fill-opacity="0.3"/>
<path d="M355.00,480.77 L356.40,480.52 L357.81,480.27 L359.21,480.02 L360.62,479.77 L362.02,479.52 L363.43,479.27 L364.83,479.02 L366.24,478.76 L367.64,478.51 L369.05,478.25 L370.45,477.99 L371.86,477.73 L373.26,477.47 L374.67,477.21 L376.07,476.94 L377.47,476.68 L378.88,476.40 L380.28,476.13 L381.69,475.86 L383.09,475.58 L384.50,475.32 L385.90,475.06 L387.31,474.81 L388.71,474.57 L390.12,474.32 L391.52,474.08 L392.93,473.83 L394.33,473.58 L395.74,473.32 L397.14,473.08 L398.55,472.85 L399.95,472.62 L401.35,472.40 L402.76,472.17 L404.16,471.95 L405.57,471.71 L406.97,471.46 L408.38,471.20 L409.78,470.92 L411.19,470.61 L412.59,470.28 L414.00,469.92 L415.40,469.52 L416.81,469.10 L418.21,468.67 L419.62,468.22 L421.02,467.76 L422.42,467.29 L423.83,466.81 L425.23,466.32 L426.64,465.83 L428.04,465.33 L429.45,464.82 L430.85,464.31 L432.26,463.81 L433.66,463.30 L435.07,462.79 L436.47,462.28 L437.88,461.77 L439.28,461.26 L440.69,460.75 L442.09,460.23 L443.49,459.71 L444.90,459.18 L446.30,458.64 L447.71,458.11 L449.11,457.56 L450.52,457.00 L451.92,456.44 L453.33,455.87 L454.73,455.28 L456.14,454.68 L457.54,454.03 L458.95,453.35 L460.35,452.64 L461.76,451.93 L463.16,451.21 L464.57,450.49 L465.97,449.80 L467.37,449.14 L468.78,448.52 L470.18,447.94 L471.59,447.39 L472.99,446.83 L474.40,446.26 L475.80,445.69 L477.21,445.12 L478.61,444.54 L480.02,443.96 L481.42,443.37 L482.83,442.78 L484.23,442.19 L485.64,441.59 L487.04,440.98 L488.44,440.38 L489.85,439.76 L491.25,439.15 L492.66,438.53 L494.06,437.90 L495.47,437.27 L496.87,436.63 L498.28,435.99 L499.68,435.35 L501.09,434.69 L502.49,434.04 L503.90,433.37 L505.30,432.70 L506.71,432.02 L508.11,431.34 L509.52,430.65 L510.92,429.94 L512.32,429.21 L513.73,428.46 L515.13,427.70 L516.54,426.91 L517.94,426.12 L519.35,425.30 L520.75,424.48 L522.16,423.65 L523.56,422.80 L524.97,421.95 L526.37,421.09 L527.78,420.23 L529.18,419.37 L530.59,418.50 L531.99,417.63 L533.39,416.77 L534.80,415.91 L536.20,415.05 L537.61,414.20 L539.01,413.35 L540.42,412.51 L541.82,411.67 L543.23,410.83 L544.63,409.98 L546.04,409.13 L547.44,408.27 L548.85,407.41 L550.25,406.54 L551.66,405.67 L553.06,404.80 L554.46,403.92 L555.87,403.05 L557.27,402.17 L558.68,401.28 L560.08,400.40 L561.49,399.51 L562.89,398.61 L564.30,397.71 L565.70,396.81 L567.11,395.89 L568.51,394.97 L569.92,394.05 L571.32,393.11 L572.73,392.18 L574.13,391.23 L575.54,390.28 L576.94,389.32 L578.34,388.36 L579.75,387.39 L581.15,386.41 L582.56,385.42 L583.96,384.43 L585.37,383.43 L586.77,382.43 L588.18,381.41 L589.58,380.38 L590.99,379.34 L592.39,378.29 L593.80,377.23 L595.20,376.16 L596.61,375.08 L598.01,373.98 L599.41,372.88 L600.82,371.77 L602.22,370.65 L603.63,369.51 L605.03,368.37 L606.44,367.22 L607.84,366.07 L609.25,364.90 L610.65,363.72 L612.06,362.54 L613.46,361.35 L614.87,360.15 L616.27,358.94 L617.68,357.73 L619.08,356.51 L620.48,355.28 L621.89,354.05 L623.29,352.80 L624.70,351.56 L626.10,350.30 L627.51,349.04 L628.91,347.78 L630.32,346.50 L631.72,345.23 L633.13,343.95 L634.53,342.66 L635.94,341.37 L637.34,340.07 L638.75,338.77 L640.15,337.46 L641.56,336.16 L642.96,334.84 L644.36,333.52 L645.77,332.20 L647.17,330.87 L648.58,329.53 L649.98,328.19 L651.39,326.84 L652.79,325.49 L654.20,324.13 L655.60,322.76 L657.01,321.38 L658.41,319.99 L659.82,318.60 L661.22,317.20 L662.63,315.79 L664.03,314.37 L665.43,312.94 L666.84,311.50 L668.24,310.05 L669.65,308.58 L671.05,307.11 L672.46,305.63 L673.86,304.14 L675.27,302.63 L676.67,301.11 L678.08,299.58 L679.48,298.04 L680.89,296.48 L682.29,294.91 L683.70,293.33 L685.10,291.73 L686.51,290.12 L687.91,288.50 L689.31,286.86 L690.72,285.20 L692.12,283.53 L693.53,281.84 L694.93,280.14 L696.34,278.43 L697.74,276.70 L699.15,274.96 L700.55,273.21 L701.96,271.44 L703.36,269.67 L704.77,267.88 L706.17,266.07 L707.58,264.25 L708.98,262.43 L710.38,260.58 L711.79,258.73 L713.19,256.86 L714.60,254.98 L716.00,253.08 L717.41,251.17 L718.81,249.25 L720.22,247.32 L721.62,245.37 L723.03,243.42 L724.43,241.44 L725.84,239.46 L727.24,237.46 L728.65,235.45 L730.05,233.42 L731.45,231.39 L732.86,229.34 L734.26,227.27 L735.67,225.20 L737.07,223.11 L738.48,221.00 L739.88,218.89 L741.29,216.76 L742.69,214.62 L744.10,212.46 L745.50,210.29 L746.91,208.11 L748.31,205.92 L749.72,203.71 L751.12,201.49 L752.53,199.27 L753.93,197.05 L755.33,194.82 L756.74,192.59 L758.14,190.36 L759.55,188.11 L760.95,185.86 L762.36,183.60 L763.76,181.33 L765.17,179.05 L766.57,176.76 L767.98,174.45 L769.38,172.13 L770.79,169.80 L772.19,167.45 L773.60,165.08 L775.00,162.69 L775.00,383.70 L773.60,384.12 L772.19,384.54 L770.79,384.96 L769.38,385.39 L767.98,385.81 L766.57,386.23 L765.17,386.65 L763.76,387.07 L762.36,387.49 L760.95,387.91 L759.55,388.34 L758.14,388.76 L756.74,389.18 L755.33,389.60 L753.93,390.02 L752.53,390.44 L751.12,390.85 L749.72,391.27 L748.31,391.68 L746.91,392.09 L745.50,392.50 L744.10,392.91 L742.69,393.32 L741.29,393.73 L739.88,394.13 L738.48,394.54 L737.07,394.95 L735.67,395.36 L734.26,395.77 L732.86,396.19 L731.45,396.60 L730.05,397.02 L728.65,397.44 L727.24,397.86 L725.84,398.28 L724.43,398.71 L723.03,399.14 L721.62,399.58 L720.22,400.02 L718.81,400.47 L717.41,400.92 L716.00,401.37 L714.60,401.83 L713.19,402.30 L711.79,402.79 L710.38,403.28 L708.98,403.79 L707.58,404.30 L706.17,404.82 L704.77,405.34 L703.36,405.86 L701.96,406.38 L700.55,406.91 L699.15,407.43 L697.74,407.95 L696.34,408.46 L694.93,408.96 L693.53,409.46 L692.12,409.94 L690.72,410.41 L689.31,410.87 L687.91,411.33 L686.51,411.77 L685.10,412.21 L683.70,412.64 L682.29,413.07 L680.89,413.50 L679.48,413.92 L678.08,414.34 L676.67,414.75 L675.27,415.16 L673.86,415.57 L672.46,415.97 L671.05,416.37 L669.65,416.78 L668.24,417.18 L666.84,417.58 L665.43,417.98 L664.03,418.38 L662.63,418.78 L661.22,419.19 L659.82,419.59 L658.41,420.00 L657.01,420.41 L655.60,420.82 L654.20,421.23 L652.79,421.65 L651.39,422.08 L649.98,422.51 L648.58,422.94 L647.17,423.37 L645.77,423.81 L644.36,424.26 L642.96,424.70 L641.56,425.15 L640.15,425.59 L638.75,426.04 L637.34,426.49 L635.94,426.94 L634.53,427.38 L633.13,427.82 L631.72,428.26 L630.32,428.70 L628.91,429.14 L627.51,429.57 L626.10,430.00 L624.70,430.43 L623.29,430.86 L621.89,431.29 L620.48,431.71 L619.08,432.14 L617.68,432.56 L616.27,432.99 L614.87,433.41 L613.46,433.83 L612.06,434.26 L610.65,434.68 L609.25,435.10 L607.84,435.52 L606.44,435.94 L605.03,436.36 L603.63,436.79 L602.22,437.21 L600.82,437.63 L599.41,438.05 L598.01,438.47 L596.61,438.90 L595.20,439.32 L593.80,439.75 L592.39,440.17 L590.99,440.60 L589.58,441.03 L588.18,441.46 L586.77,441.90 L585.37,442.35 L583.96,442.80 L582.56,443.25 L581.15,443.70 L579.75,444.16 L578.34,444.61 L576.94,445.07 L575.54,445.52 L574.13,445.97 L572.73,446.42 L571.32,446.86 L569.92,447.29 L568.51,447.72 L567.11,448.14 L565.70,448.55 L564.30,448.95 L562.89,449.34 L561.49,449.72 L560.08,450.08 L558.68,450.43 L557.27,450.77 L555.87,451.09 L554.46,451.41 L553.06,451.72 L551.66,452.03 L550.25,452.32 L548.85,452.62 L547.44,452.91 L546.04,453.21 L544.63,453.50 L543.23,453.80 L541.82,454.10 L540.42,454.41 L539.01,454.72 L537.61,455.03 L536.20,455.33 L534.80,455.64 L533.39,455.94 L531.99,456.24 L530.59,456.55 L529.18,456.85 L527.78,457.17 L526.37,457.48 L524.97,457.80 L523.56,458.13 L522.16,458.47 L520.75,458.81 L519.35,459.17 L517.94,459.55 L516.54,459.96 L515.13,460.37 L513.73,460.79 L512.32,461.19 L510.92,461.57 L509.52,461.92 L508.11,462.24 L506.71,462.56 L505.30,462.87 L503.90,463.17 L502.49,463.46 L501.09,463.75 L499.68,464.03 L498.28,464.30 L496.87,464.58 L495.47,464.85 L494.06,465.12 L492.66,465.39 L491.25,465.66 L489.85,465.93 L488.44,466.20 L487.04,466.47 L485.64,466.74 L484.23,467.00 L482.83,467.27 L481.42,467.53 L480.02,467.79 L478.61,468.05 L477.21,468.31 L475.80,468.56 L474.40,468.81 L472.99,469.07 L471.59,469.32 L470.18,469.57 L468.78,469.82 L467.37,470.07 L465.97,470.32 L464.57,470.57 L463.16,470.82 L461.76,471.07 L460.35,471.31 L458.95,471.56 L457.54,471.80 L456.14,472.03 L454.73,472.26 L453.33,472.49 L451.92,472.71 L450.52,472.92 L449.11,473.13 L447.71,473.33 L446.30,473.53 L444.90,473.72 L443.49,473.91 L442.09,474.10 L440.69,474.28 L439.28,474.46 L437.88,474.64 L436.47,474.81 L435.07,474.98 L433.66,475.16 L432.26,475.33 L430.85,475.50 L429.45,475.67 L428.04,475.84 L426.64,476.01 L425.23,476.18 L423.83,476.35 L422.42,476.51 L421.02,476.68 L419.62,476.83 L418.21,476.98 L416.81,477.13 L415.40,477.26 L414.00,477.39 L412.59,477.50 L411.19,477.61 L409.78,477.71 L408.38,477.81 L406.97,477.90 L405.57,477.99 L404.16,478.08 L402.76,478.17 L401.35,478.27 L399.95,478.37 L398.55,478.48 L397.14,478.60 L395.74,478.73 L394.33,478.87 L392.93,479.05 L391.52,479.26 L390.12,479.48 L388.71,479.70 L387.31,479.91 L385.90,480.10 L384.50,480.25 L383.09,480.39 L381.69,480.52 L380.28,480.63 L378.88,480.75 L377.47,480.85 L376.07,480.94 L374.67,481.02 L373.26,481.10 L371.86,481.17 L370.45,481.25 L369.05,481.32 L367.64,481.39 L366.24,481.45 L364.83,481.51 L363.43,481.57 L362.02,481.62 L360.62,481.67 L359.21,481.45 L357.81,481.10 L356.40,480.87 L355.00,480.77Z" fill="rgb(34,139,34)" fill-opacity="0.3"/>
<g fill="none" stroke-width="2.5">
<path d="M396.9,74.8H462.3" stroke="#0000ff" stroke-dasharray="6.4 8.65"/>
<path d="M396.9,105.6H462.3" stroke="#ff0000" stroke-dasharray="6.4 8.65"/>
<path d="M396.9,136.4H462.3" stroke="#0000ff"/>
<path d="M396.9,167.2H462.3" stroke="#ff0000"/>
</g>
<rect x="397.6" y="222.55" width="64.2" height="11.7" fill="rgb(255,165,0)" fill-opacity="0.3" stroke="#ffa500" stroke-width="1"/>
<rect x="397.6" y="253.35" width="64.2" height="11.7" fill="rgb(34,139,34)" fill-opacity="0.3" stroke="#44a044" stroke-width="1"/>
<g opacity="0.999">
<text x="383.0" y="83.60" text-anchor="end">QM Tree: m<tspan font-size="18" dy="5.5">π</tspan><tspan dy="-5.5"> = 140MeV</tspan></text><text x="383.0" y="114.40" text-anchor="end">170MeV</text><text x="383.0" y="145.20" text-anchor="end">QM: m<tspan font-size="18" dy="5.5">π</tspan><tspan dy="-5.5"> = 140MeV</tspan></text><text x="383.0" y="176.00" text-anchor="end">170MeV</text><text x="383.0" y="206.80" text-anchor="end">Brandt et al.</text><text x="383.0" y="237.60" text-anchor="end">Abbott et al. 48x96</text><text x="383.0" y="268.40" text-anchor="end">64x128</text>
<text x="95.8" y="491.30" text-anchor="end">0</text><text x="95.8" y="419.22" text-anchor="end">0.05</text><text x="95.8" y="347.13" text-anchor="end">0.1</text><text x="95.8" y="275.05" text-anchor="end">0.15</text><text x="95.8" y="202.97" text-anchor="end">0.2</text><text x="95.8" y="130.88" text-anchor="end">0.25</text><text x="95.8" y="58.80" text-anchor="end">0.3</text>
<text x="112.60" y="516.5" text-anchor="middle">0</text><text x="245.58" y="516.5" text-anchor="middle">50</text><text x="378.56" y="516.5" text-anchor="middle">100</text><text x="511.54" y="516.5" text-anchor="middle">150</text><text x="644.52" y="516.5" text-anchor="middle">200</text><text x="777.50" y="516.5" text-anchor="middle">250</text>
<text x="397.2" y="552.1"><tspan font-style="italic">μ</tspan><tspan font-size="19.5" dy="5.8" dx="0.6">I</tspan><tspan dy="-5.8" letter-spacing="0.12"> [MeV]</tspan></text>
<text transform="translate(28.3,334.8) rotate(-90)" letter-spacing="0.2">p [GeV fm<tspan font-size="19.5" dy="-8.4">-3</tspan><tspan dy="8.4">]</tspan></text>
</g>
</svg>
</body></html>
